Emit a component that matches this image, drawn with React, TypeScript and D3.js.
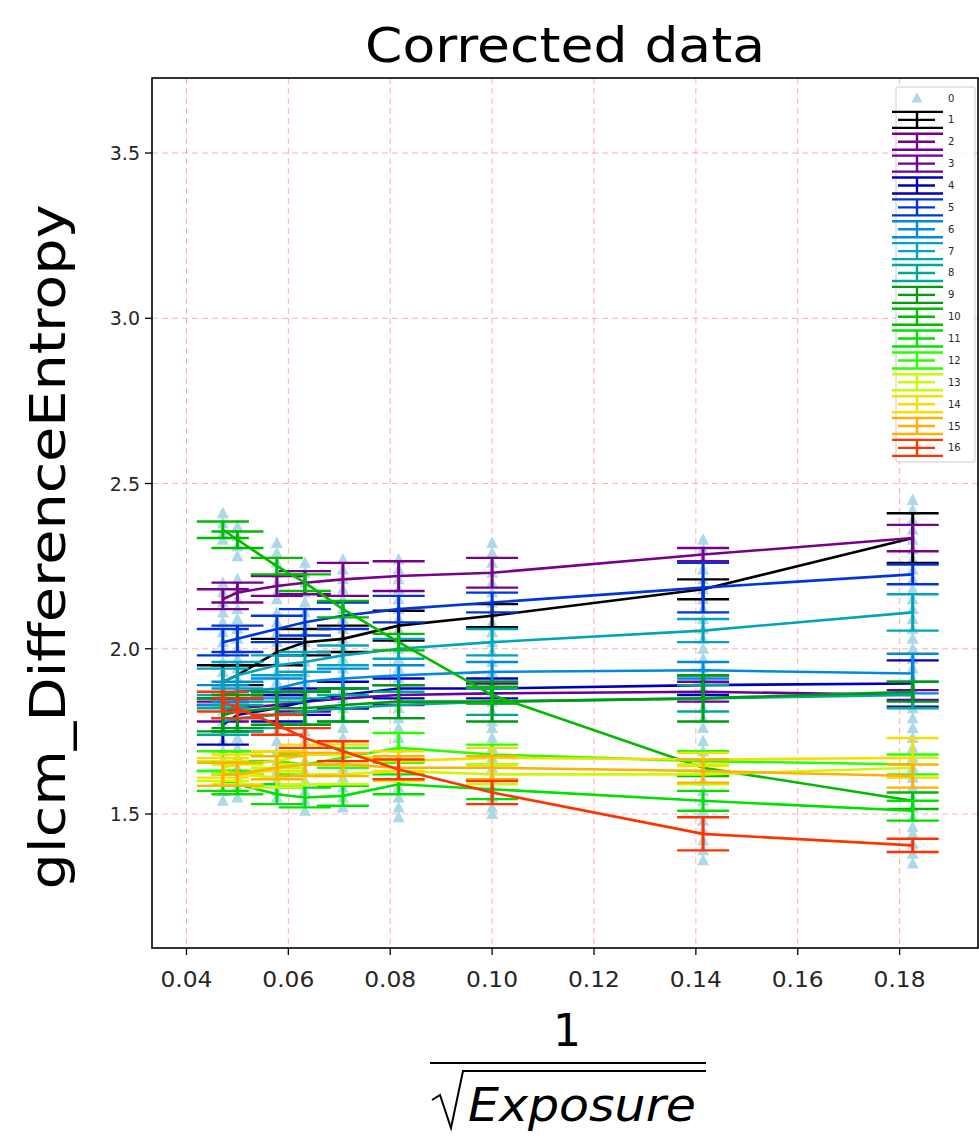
import React from 'react';
import * as d3 from 'd3';

// x = 1/sqrt(Exposure)
const xValues = [0.04714, 0.05, 0.05774, 0.06325, 0.07071, 0.08165, 0.1, 0.14142, 0.18257];
const xTicks = [0.04, 0.06, 0.08, 0.1, 0.12, 0.14, 0.16, 0.18];
const yTicks = [1.5, 2.0, 2.5, 3.0, 3.5];
const seriesLabels = ['1','2','3','4','5','6','7','8','9','10','11','12','13','14','15','16'];
const seriesColors = ['#000000','#79008a','#6a009d','#0000bb','#0035dd','#008add','#00a4bb','#00aa90','#009b0f','#00bb00','#00e100','#2aff00','#ccf900','#f6df00','#ffb000','#ff3300'];

const seriesMeans = [
  [1.90, 1.92, 1.99, 2.02, 2.03, 2.07, 2.10, 2.18, 2.335],
  [2.15, 2.17, 2.19, 2.20, 2.21, 2.22, 2.23, 2.285, 2.335],
  [1.81, 1.82, 1.83, 1.84, 1.85, 1.86, 1.865, 1.87, 1.86],
  [1.77, 1.80, 1.82, 1.84, 1.86, 1.88, 1.88, 1.89, 1.895],
  [2.02, 2.03, 2.06, 2.08, 2.10, 2.12, 2.14, 2.185, 2.225],
  [1.86, 1.87, 1.88, 1.90, 1.91, 1.92, 1.93, 1.935, 1.925],
  [1.90, 1.92, 1.95, 1.96, 1.98, 2.00, 2.02, 2.055, 2.11],
  [1.78, 1.79, 1.80, 1.81, 1.82, 1.83, 1.84, 1.85, 1.86],
  [1.80, 1.81, 1.82, 1.82, 1.83, 1.84, 1.84, 1.85, 1.87],
  [2.36, 2.33, 2.25, 2.20, 2.12, 2.02, 1.86, 1.64, 1.54],
  [1.60, 1.59, 1.56, 1.55, 1.555, 1.59, 1.575, 1.54, 1.51],
  [1.66, 1.66, 1.66, 1.65, 1.67, 1.70, 1.68, 1.66, 1.65],
  [1.63, 1.62, 1.61, 1.62, 1.62, 1.63, 1.62, 1.62, 1.64],
  [1.64, 1.65, 1.66, 1.68, 1.68, 1.66, 1.67, 1.665, 1.67],
  [1.62, 1.62, 1.64, 1.65, 1.65, 1.64, 1.64, 1.63, 1.615],
  [1.84, 1.82, 1.77, 1.73, 1.69, 1.635, 1.565, 1.44, 1.405],
];
const seriesErrors = [
  [0.05, 0.03, 0.04, 0.04, 0.04, 0.045, 0.035, 0.03, 0.075],
  [0.03, 0.03, 0.03, 0.035, 0.05, 0.045, 0.045, 0.02, 0.04],
  [0.03, 0.03, 0.03, 0.03, 0.03, 0.03, 0.03, 0.03, 0.015],
  [0.06, 0.05, 0.04, 0.04, 0.04, 0.03, 0.03, 0.03, 0.07],
  [0.04, 0.04, 0.04, 0.04, 0.04, 0.04, 0.03, 0.075, 0.03],
  [0.03, 0.03, 0.03, 0.03, 0.03, 0.03, 0.03, 0.025, 0.06],
  [0.04, 0.04, 0.03, 0.03, 0.03, 0.03, 0.04, 0.035, 0.055],
  [0.04, 0.04, 0.04, 0.04, 0.04, 0.04, 0.04, 0.04, 0.04],
  [0.05, 0.05, 0.05, 0.05, 0.05, 0.05, 0.06, 0.07, 0.03],
  [0.025, 0.025, 0.025, 0.025, 0.025, 0.025, 0.025, 0.025, 0.025],
  [0.03, 0.03, 0.03, 0.03, 0.03, 0.03, 0.03, 0.03, 0.03],
  [0.03, 0.03, 0.03, 0.03, 0.03, 0.045, 0.03, 0.03, 0.03],
  [0.03, 0.03, 0.03, 0.03, 0.03, 0.03, 0.03, 0.03, 0.03],
  [0.03, 0.03, 0.03, 0.03, 0.03, 0.03, 0.03, 0.02, 0.06],
  [0.035, 0.035, 0.035, 0.035, 0.035, 0.035, 0.035, 0.035, 0.035],
  [0.03, 0.03, 0.03, 0.03, 0.03, 0.03, 0.035, 0.05, 0.02],
];

// series "0": raw samples (light blue triangles), one list per x value
const rawSamples = [
  [2.41,2.38,2.35,2.33,2.20,2.17,2.14,2.11,2.08,2.05,2.02,1.99,1.96,1.93,1.90,1.87,1.84,1.81,1.78,1.75,1.72,1.69,1.66,1.63,1.60,1.57,1.54],
  [2.37,2.34,2.31,2.28,2.21,2.18,2.15,2.12,2.09,2.06,2.03,2.00,1.97,1.94,1.91,1.88,1.85,1.82,1.79,1.76,1.73,1.70,1.67,1.64,1.61,1.58,1.55],
  [2.32,2.29,2.26,2.23,2.20,2.17,2.15,2.11,2.08,2.05,2.02,1.99,1.96,1.93,1.90,1.87,1.84,1.81,1.78,1.75,1.72,1.69,1.66,1.63,1.60,1.57,1.55],
  [2.26,2.23,2.20,2.17,2.14,2.11,2.08,2.05,2.02,1.99,1.96,1.93,1.90,1.87,1.84,1.81,1.78,1.75,1.72,1.69,1.66,1.63,1.60,1.57,1.54,1.51],
  [2.27,2.24,2.21,2.18,2.15,2.12,2.09,2.06,2.03,2.00,1.97,1.94,1.91,1.88,1.85,1.82,1.79,1.76,1.73,1.70,1.67,1.64,1.61,1.58,1.55,1.52],
  [2.27,2.24,2.21,2.18,2.15,2.12,2.09,2.06,2.03,2.00,1.97,1.94,1.91,1.88,1.85,1.82,1.79,1.76,1.73,1.70,1.67,1.64,1.61,1.58,1.55,1.52,1.49],
  [2.32,2.29,2.26,2.23,2.20,2.17,2.14,2.11,2.08,2.05,2.02,1.99,1.96,1.93,1.90,1.87,1.84,1.81,1.78,1.76,1.73,1.70,1.67,1.64,1.61,1.58,1.55,1.52,1.50],
  [2.33,2.30,2.27,2.24,2.21,2.18,2.15,2.12,2.09,2.06,2.03,2.00,1.97,1.94,1.91,1.88,1.85,1.82,1.79,1.76,1.72,1.69,1.66,1.63,1.60,1.57,1.54,1.51,1.48,1.45,1.42,1.39,1.36],
  [2.45,2.42,2.39,2.36,2.33,2.30,2.27,2.24,2.21,2.18,2.15,2.12,2.09,2.06,2.03,2.00,1.97,1.94,1.91,1.88,1.85,1.82,1.79,1.76,1.73,1.70,1.67,1.64,1.61,1.58,1.55,1.52,1.49,1.46,1.44,1.41,1.38,1.35],
];

const W = 979, H = 1136;
const PL = 152, PR = 978, PT = 78, PB = 948;
const FONT = 'DejaVu Sans, sans-serif';
const CAP = 26;
const TRI = '#add8e6';

function tri(cx: number, cy: number, s = 1) {
  return `M${cx},${cy - 6.5 * s}L${cx - 6 * s},${cy + 5 * s}L${cx + 6 * s},${cy + 5 * s}Z`;
}

export default function App() {
  const x = d3.scaleLinear().domain([0.03323, 0.19539]).range([PL, PR]);
  const y = d3.scaleLinear().domain([1.0946, 3.727]).range([PB, PT]);
  const line = d3.line<number>().x((_, i) => x(xValues[i])).y((d) => y(d));

  const legendTop = 98, legendStep = 21.87;

  return (
    <svg width={W} height={H} style={{ position: 'absolute', left: 0, top: 0, background: '#fff' }} xmlns="http://www.w3.org/2000/svg">
      <rect x={0} y={0} width={W} height={H} fill="#fff" />
      {/* grid */}
      <g stroke="#ff7070" strokeOpacity={0.55} strokeWidth={1} strokeDasharray="6,4">
        {xTicks.map((t) => (
          <line key={'gx' + t} x1={x(t)} x2={x(t)} y1={PT} y2={PB} />
        ))}
        {yTicks.map((t) => (
          <line key={'gy' + t} x1={PL} x2={PR} y1={y(t)} y2={y(t)} />
        ))}
      </g>
      {/* raw samples */}
      <g fill={TRI}>
        {rawSamples.map((col, i) =>
          col.map((v, j) => <path key={`t${i}-${j}`} d={tri(x(xValues[i]), y(v))} />)
        )}
      </g>
      {/* error bar series */}
      {seriesMeans.map((m, si) => {
        const c = seriesColors[si];
        const e = seriesErrors[si];
        return (
          <g key={'s' + si} stroke={c} strokeWidth={2.4} fill="none">
            {m.map((v, i) => {
              const cx = x(xValues[i]);
              const y1 = y(v - e[i]);
              const y2 = y(v + e[i]);
              return (
                <g key={i}>
                  <line x1={cx} x2={cx} y1={y1} y2={y2} strokeWidth={3} />
                  <line x1={cx - CAP} x2={cx + CAP} y1={y1} y2={y1} />
                  <line x1={cx - CAP} x2={cx + CAP} y1={y2} y2={y2} />
                </g>
              );
            })}
            <path d={line(m) || ''} strokeWidth={2.6} />
          </g>
        );
      })}
      {/* axes frame */}
      <rect x={PL} y={PT} width={PR - PL} height={PB - PT} fill="none" stroke="#000" strokeWidth={1.6} />
      {/* ticks */}
      <g stroke="#000" strokeWidth={1.3}>
        {xTicks.map((t) => (
          <line key={'tx' + t} x1={x(t)} x2={x(t)} y1={PB} y2={PB + 7} />
        ))}
        {yTicks.map((t) => (
          <line key={'ty' + t} x1={PL - 7} x2={PL} y1={y(t)} y2={y(t)} />
        ))}
      </g>
      <g fontFamily={FONT} fill="#262626">
        {xTicks.map((t) => (
          <text key={'lx' + t} x={x(t)} y={PB + 39} textAnchor="middle" fontSize={21} textLength={52} lengthAdjust="spacingAndGlyphs">{t.toFixed(2)}</text>
        ))}
        {yTicks.map((t) => (
          <text key={'ly' + t} x={PL - 12} y={y(t) + 7} textAnchor="end" fontSize={19}>{t.toFixed(1)}</text>
        ))}
      </g>
      {/* legend */}
      <rect x={896} y={87} width={79} height={375} fill="#fff" fillOpacity={0.8} stroke="#cccccc" strokeWidth={1} rx={2} />
      <g>
        <path d={tri(917, legendTop, 0.9)} fill={TRI} />
        <text x={948} y={legendTop + 3.5} fontFamily={FONT} fontSize={10} fill="#262626">0</text>
        {seriesLabels.map((lab, i) => {
          const cy = legendTop + (i + 1) * legendStep;
          const c = seriesColors[i];
          return (
            <g key={'lg' + i}>
              <g stroke={c} strokeWidth={2.4}>
                <line x1={898} x2={935} y1={cy} y2={cy} />
                <line x1={917} x2={917} y1={cy - 8} y2={cy + 8} />
                <line x1={892} x2={943} y1={cy - 8} y2={cy - 8} />
                <line x1={892} x2={943} y1={cy + 8} y2={cy + 8} />
              </g>
              <text x={948} y={cy + 3.5} fontFamily={FONT} fontSize={10} fill="#262626">{lab}</text>
            </g>
          );
        })}
      </g>
      {/* title */}
      <text x={(PL + PR) / 2} y={62} textAnchor="middle" fontFamily={FONT} fontSize={48} textLength={400} lengthAdjust="spacingAndGlyphs" fill="#000">Corrected data</text>
      {/* y label */}
      <text transform={`translate(65,547) rotate(-90)`} textAnchor="middle" fontFamily={FONT} fontSize={50} textLength={685} lengthAdjust="spacingAndGlyphs" fill="#000">glcm_DifferenceEntropy</text>
      {/* x label: 1 / sqrt(Exposure) */}
      <text x={567} y={1046} textAnchor="middle" fontFamily={FONT} fontSize={44} fill="#000">1</text>
      <line x1={430} x2={706} y1={1063} y2={1063} stroke="#000" strokeWidth={2} />
      <path d="M432,1100 L440,1095 L451,1128 L463,1071 L706,1071" fill="none" stroke="#000" strokeWidth={2} />
      <text x={468} y={1121} fontFamily={FONT} fontSize={47} fontStyle="italic" textLength={228} lengthAdjust="spacingAndGlyphs" fill="#000">Exposure</text>
    </svg>
  );
}
